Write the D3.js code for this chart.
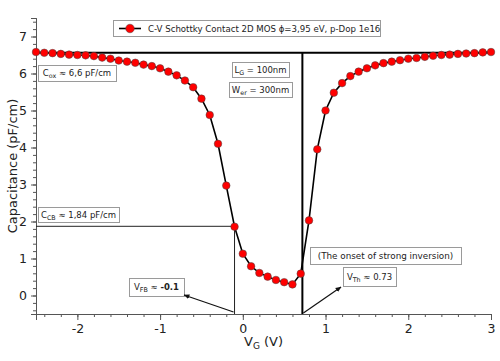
<html>
<head>
<meta charset="utf-8">
<script src="https://d3js.org/d3.v7.min.js"></script>
<style>
body { margin: 0; background: #fff; }
text { font-family: "DejaVu Sans", Verdana, sans-serif; }
.box rect { fill: #fff; stroke: #9a9a9a; stroke-width: 1; }
</style>
</head>
<body>
<div id="plot"></div>
<script>
// gate voltage (V) and capacitance (pF/cm)
var vg = [-2.5, -2.4, -2.3, -2.2, -2.1, -2.0, -1.9, -1.8, -1.7, -1.6, -1.5, -1.4, -1.3, -1.2,
  -1.1, -1.0, -0.9, -0.8, -0.7, -0.6, -0.5, -0.4, -0.3, -0.2, -0.1, 0.0, 0.1, 0.2, 0.3, 0.4,
  0.5, 0.6, 0.7, 0.8, 0.9, 1.0, 1.1, 1.2, 1.3, 1.4, 1.5, 1.6, 1.7, 1.8, 1.9, 2.0, 2.1, 2.2,
  2.3, 2.4, 2.5, 2.6, 2.7, 2.8, 2.9, 3.0];
var cap = [6.58, 6.56, 6.55, 6.53, 6.51, 6.50, 6.49, 6.47, 6.43, 6.40, 6.35, 6.32, 6.29, 6.24,
  6.20, 6.14, 6.05, 5.95, 5.81, 5.63, 5.32, 4.88, 4.10, 2.97, 1.86, 1.13, 0.79, 0.61, 0.51, 0.42,
  0.36, 0.30, 0.59, 2.03, 3.95, 5.00, 5.48, 5.74, 5.93, 6.05, 6.14, 6.22, 6.28, 6.32, 6.36, 6.40,
  6.42, 6.45, 6.48, 6.50, 6.51, 6.53, 6.54, 6.55, 6.57, 6.58];

var xTicks = [-2, -1, 0, 1, 2, 3];
var yTicks = [0, 1, 2, 3, 4, 5, 6, 7];

// reference levels
var cox = 6.56;   // oxide capacitance line
var ccb = 1.87;   // flat-band capacitance
var vfb = -0.1;   // flat-band voltage
var vth = 0.72;   // threshold voltage

var legendText = "C-V Schottky Contact 2D MOS \u03d5=3,95 eV, p-Dop 1e16";

var width = 500, height = 361;
var svg = d3.select("#plot").append("svg").attr("width", width).attr("height", height);

var x = d3.scaleLinear().domain([-2.5, 3]).range([36, 491]);
var y = d3.scaleLinear().domain([-0.5, 7.5]).range([314, 18]);

// minor ticks every 0.2
var xAxisMinor = d3.axisBottom(x).tickValues(d3.range(-2.4, 3.01, 0.2)).tickSize(3).tickFormat("");
var yAxisMinor = d3.axisLeft(y).tickValues(d3.range(-0.4, 7.41, 0.2)).tickSize(3).tickFormat("");
svg.append("g").attr("transform", "translate(0," + y(-0.5) + ")").call(xAxisMinor);
svg.append("g").attr("transform", "translate(" + x(-2.5) + ",0)").call(yAxisMinor);

var fmt = function (d) { return String(d); };
var xAxis = d3.axisBottom(x).tickValues(xTicks).tickSize(6).tickPadding(4).tickFormat(fmt);
var yAxis = d3.axisLeft(y).tickValues(yTicks).tickSize(5).tickPadding(4).tickFormat(fmt);
svg.append("g").attr("transform", "translate(0," + y(-0.5) + ")").call(xAxis);
svg.append("g").attr("transform", "translate(" + x(-2.5) + ",0)").call(yAxis);

svg.selectAll(".domain").style("stroke", "#555");
svg.selectAll(".tick line").style("stroke", "#555");
svg.selectAll(".tick text").style("font-size", "12.5px").style("fill", "#222")
  .style("font-family", "'DejaVu Sans', Verdana, sans-serif");

// axis titles
svg.append("text").attr("transform", "translate(17," + y(3.5) + ") rotate(-90)")
  .attr("text-anchor", "middle").style("font-size", "13px").style("fill", "#222")
  .text("Capacitance (pF/cm)");
var xt = svg.append("text").attr("x", x(0.25)).attr("y", 346).attr("text-anchor", "middle")
  .style("font-size", "13px").style("fill", "#222");
xt.append("tspan").text("V");
xt.append("tspan").attr("dy", 3).style("font-size", "9px").text("G");
xt.append("tspan").attr("dy", -3).text(" (V)");

// reference lines
svg.append("line").attr("x1", x(-2.5)).attr("x2", x(3)).attr("y1", y(cox)).attr("y2", y(cox))
  .style("stroke", "#000").style("stroke-width", 2);
svg.append("line").attr("x1", x(vth)).attr("x2", x(vth)).attr("y1", y(-0.5)).attr("y2", y(cox))
  .style("stroke", "#000").style("stroke-width", 2);
svg.append("line").attr("x1", x(-2.5)).attr("x2", x(vfb)).attr("y1", y(ccb)).attr("y2", y(ccb))
  .style("stroke", "#222").style("stroke-width", 1);
svg.append("line").attr("x1", x(vfb)).attr("x2", x(vfb)).attr("y1", y(-0.5)).attr("y2", y(ccb))
  .style("stroke", "#222").style("stroke-width", 1);

// the curve
var pts = vg.map(function (v, i) { return { x: v, y: cap[i] }; });
var line = d3.line().x(function (d) { return x(d.x); }).y(function (d) { return y(d.y); });
svg.append("path").attr("d", line(pts)).style("fill", "none")
  .style("stroke", "#000").style("stroke-width", 1.6);
svg.selectAll("circle.pt").data(pts).enter().append("circle").attr("class", "pt")
  .attr("cx", function (d) { return x(d.x); })
  .attr("cy", function (d) { return y(d.y); })
  .attr("r", 3.8)
  .style("fill", "#ff0000").style("stroke", "#444").style("stroke-width", 0.5);

// boxes with text; parts: [text, "sub"|"b"|""]
function box(x0, y0, w, h, parts, size) {
  var g = svg.append("g").attr("class", "box");
  g.append("rect").attr("x", x0 + 0.5).attr("y", y0 + 0.5).attr("width", w).attr("height", h);
  var t = g.append("text").attr("x", x0 + w / 2).attr("y", y0 + h / 2 + size * 0.36)
    .attr("text-anchor", "middle").style("font-size", size + "px").style("fill", "#222");
  var prevSub = false;
  parts.forEach(function (p) {
    var s = t.append("tspan").text(p[0]);
    if (p[1] == "sub") { s.attr("dy", 2).style("font-size", (size * 0.75) + "px"); prevSub = true; return; }
    if (p[1] == "b") s.style("font-weight", "bold");
    if (prevSub) s.attr("dy", -2);
    prevSub = false;
  });
  return g;
}

function arrow(x1, y1, x2, y2) {
  svg.append("line").attr("x1", x1).attr("y1", y1).attr("x2", x2).attr("y2", y2)
    .style("stroke", "#111").style("stroke-width", 1.2).attr("marker-end", "url(#head)");
}
svg.append("defs").append("marker").attr("id", "head").attr("viewBox", "0 0 10 10")
  .attr("refX", 9).attr("refY", 5).attr("markerWidth", 5).attr("markerHeight", 5)
  .attr("orient", "auto").append("path").attr("d", "M0,1 L10,5 L0,9 z").style("fill", "#111");

box(38, 65, 78, 16, [["C", ""], ["ox", "sub"], [" \u2248 6,6 pF/cm", ""]], 8.5);
box(232, 62, 57, 15, [["L", ""], ["G", "sub"], [" = 100nm", ""]], 8.5);
box(229, 82, 63, 15, [["W", ""], ["er", "sub"], [" = 300nm", ""]], 8.5);
box(38, 207, 81, 15, [["C", ""], ["CB", "sub"], [" \u2248 1,84 pF/cm", ""]], 8.5);
box(129, 278, 55, 18, [["V", ""], ["FB", "sub"], [" \u2248 ", ""], ["-0.1", "b"]], 8.5);
box(310, 247, 151, 17, [["(The onset of strong inversion)", ""]], 8.8);
box(343, 267, 53, 19, [["V", ""], ["Th", "sub"], [" \u2248 0.73", ""]], 8.5);

arrow(x(vfb) - 1, y(-0.5) - 2, 184, 295);
arrow(x(vth) + 1, y(-0.5) - 1, 341, 287);

// legend
var lg = svg.append("g").attr("class", "box");
lg.append("rect").attr("x", 113.5).attr("y", 20.5).attr("width", 267).attr("height", 16);
lg.append("line").attr("x1", 119).attr("x2", 141).attr("y1", 28.5).attr("y2", 28.5)
  .style("stroke", "#000").style("stroke-width", 1.6);
lg.append("circle").attr("cx", 130).attr("cy", 28.5).attr("r", 4.3)
  .style("fill", "#ff0000").style("stroke", "#444").style("stroke-width", 0.5);
lg.append("text").attr("x", 148).attr("y", 31.5).style("font-size", "8.6px").style("fill", "#222")
  .text(legendText);
</script>
</body>
</html>
